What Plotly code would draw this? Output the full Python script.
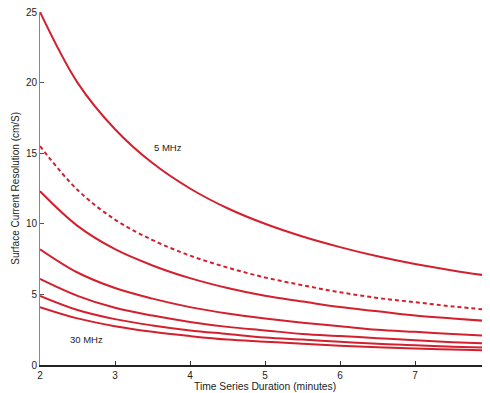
import plotly.graph_objects as go

duration = [2, 2.5, 3, 3.5, 4, 4.5, 5, 5.5, 6, 6.5, 7, 7.5, 8]
res_5mhz = [25.0, 20.0, 16.7, 14.3, 12.5, 11.1, 10.0, 9.1, 8.35, 7.7, 7.15, 6.7, 6.3]
res_dashed = [15.5, 12.4, 10.3, 8.85, 7.75, 6.9, 6.2, 5.65, 5.15, 4.75, 4.45, 4.15, 3.9]
res_c3 = [12.3, 9.85, 8.2, 7.05, 6.15, 5.45, 4.9, 4.5, 4.1, 3.8, 3.5, 3.3, 3.1]
res_c4 = [8.2, 6.55, 5.45, 4.7, 4.1, 3.65, 3.3, 3.0, 2.75, 2.5, 2.35, 2.2, 2.05]
res_c5 = [6.1, 4.9, 4.05, 3.5, 3.05, 2.7, 2.45, 2.2, 2.05, 1.9, 1.75, 1.62, 1.52]
res_c6 = [4.9, 3.9, 3.25, 2.8, 2.45, 2.2, 1.95, 1.8, 1.65, 1.5, 1.4, 1.3, 1.23]
res_30mhz = [4.1, 3.3, 2.75, 2.35, 2.05, 1.8, 1.65, 1.5, 1.37, 1.26, 1.17, 1.1, 1.03]

x_ticks = [2, 3, 4, 5, 6, 7, 8]
y_ticks = [0, 5, 10, 15, 20, 25]

RED = "#d3202e"
series = [
    (res_5mhz, "solid"),
    (res_dashed, "dash"),
    (res_c3, "solid"),
    (res_c4, "solid"),
    (res_c5, "solid"),
    (res_c6, "solid"),
    (res_30mhz, "solid"),
]

fig = go.Figure()
for ys, dash in series:
    fig.add_trace(go.Scatter(
        x=duration, y=ys, mode="lines",
        line=dict(color=RED, width=2, dash="solid" if dash == "solid" else "4px,3px",
                  shape="spline", smoothing=1.0),
        showlegend=False, hoverinfo="skip"))

FONT = "Arial, Liberation Sans"
fig.add_annotation(x=3.49, y=15.4, text="5 MHz", showarrow=False, xanchor="left",
                   font=dict(family=FONT, size=9.5, color="#222"))
fig.add_annotation(x=2.37, y=1.8, text="30 MHz", showarrow=False, xanchor="left",
                   font=dict(family=FONT, size=9.5, color="#222"))
fig.add_annotation(xref="paper", yref="paper", x=0.5, y=-0.062, yanchor="middle",
                   text="Time Series Duration (minutes)", showarrow=False,
                   font=dict(family=FONT, size=10.3, color="#222"))
fig.add_annotation(xref="paper", yref="paper", x=-0.055, y=0.5, xanchor="center",
                   text="Surface Current Resolution (cm/S)", showarrow=False, textangle=-90,
                   font=dict(family=FONT, size=10, color="#222"))

fig.update_layout(
    width=482, height=385,
    margin=dict(l=32, r=0, t=4, b=28),
    paper_bgcolor="white", plot_bgcolor="white",
    font=dict(family=FONT, size=10, color="#222"),
    xaxis=dict(range=[2, 8], tickvals=x_ticks, ticks="inside", ticklen=4,
               tickcolor="#333", showline=True, linecolor="#222", linewidth=1.5,
               showgrid=False, zeroline=False, automargin=False,
               ticklabeloverflow="allow"),
    yaxis=dict(range=[0, 25], tickvals=y_ticks, ticks="inside", ticklen=4,
               tickcolor="#555", showline=True, linecolor="#888", linewidth=1,
               showgrid=False, zeroline=False, automargin=False,
               ticklabeloverflow="allow"),
)

fig.write_html("out.html")
